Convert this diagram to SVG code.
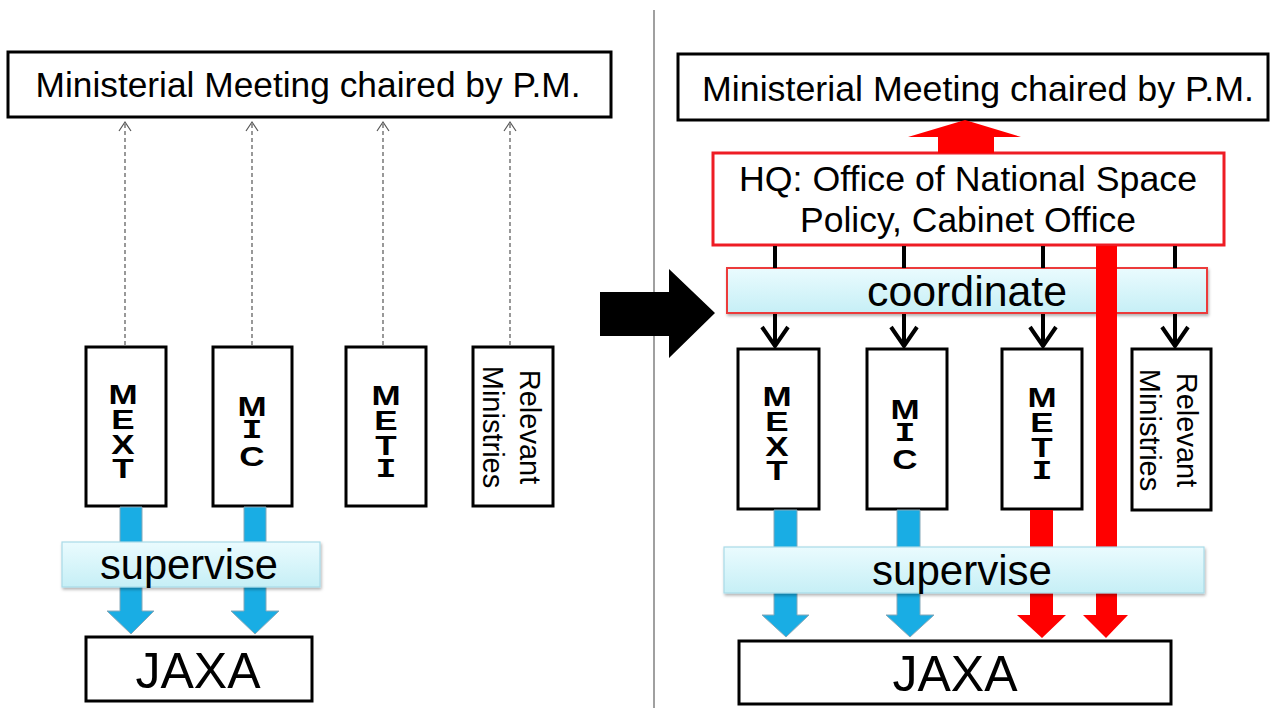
<svg xmlns="http://www.w3.org/2000/svg" width="1275" height="708" viewBox="0 0 1275 708">
<defs>
<linearGradient id="cyan" x1="0" y1="0" x2="0" y2="1">
<stop offset="0" stop-color="#eafbfe"/>
<stop offset="1" stop-color="#c6eff6"/>
</linearGradient>
<filter id="sh" x="-5%" y="-20%" width="110%" height="150%">
<feDropShadow dx="1" dy="2" stdDeviation="1.5" flood-color="#000" flood-opacity="0.3"/>
</filter>
</defs>
<style>
.box{fill:#fff;stroke:#000;stroke-width:3}
.hq{fill:#fff;stroke:#ee1c24;stroke-width:3}
.band{fill:url(#cyan);stroke:#a9dbe8;stroke-width:1.2;filter:url(#sh)}
.bandr{fill:url(#cyan);stroke:#ec3a3a;stroke-width:2;filter:url(#sh)}
.t{font-family:"Liberation Sans",Arial,sans-serif;fill:#000;text-anchor:middle}
.big{font-size:35px}
.lbl{font-size:42px}
.jaxa{font-size:50px}
.v{font-family:"Liberation Sans",Arial,sans-serif;font-weight:bold;font-size:28px;text-anchor:middle;writing-mode:vertical-rl;text-orientation:upright;letter-spacing:-7px}
.vi{font-family:"Liberation Mono","Courier New",monospace;font-weight:bold}
.r{font-family:"Liberation Sans",Arial,sans-serif;font-size:29px;text-anchor:middle}
.dash{fill:none;stroke:#555;stroke-width:1.2;stroke-dasharray:4 3}
.chev{fill:none;stroke:#555;stroke-width:1.2}
.blk{fill:none;stroke:#000;stroke-width:4}
.blue{fill:#19ade4;stroke:#86a8b8;stroke-width:1}
.red{fill:#ff0000}
</style>
<rect width="1275" height="708" fill="#fff"/>
<line x1="654" y1="10" x2="654" y2="708" stroke="#808080" stroke-width="1.5"/>
<polygon points="600,292 669,292 669,269 715,313 669,358 669,336 600,336" fill="#000"/>

<!-- left panel nodes -->
<g id="left-meeting"><rect class="box" x="8" y="52" width="603" height="65"/><text class="t big" x="308" y="97" textLength="545" lengthAdjust="spacingAndGlyphs">Ministerial Meeting chaired by P.M.</text></g>
<g id="left-mext"><rect class="box" x="86" y="347" width="80" height="159"/><text class="v" transform="translate(123,0) scale(1.25,1)" x="0" y="428">MEXT</text></g>
<g id="left-mic"><rect class="box" x="213" y="347" width="79" height="159"/><text class="v" transform="translate(252,0) scale(1.25,1)" x="0" y="428">M<tspan class="vi">I</tspan>C</text></g>
<g id="left-meti"><rect class="box" x="346" y="347" width="80" height="159"/><text class="v" transform="translate(386,0) scale(1.25,1)" x="0" y="429">MET<tspan class="vi">I</tspan></text></g>
<g id="left-relevant"><rect class="box" x="473" y="347" width="80" height="159"/><text class="r" transform="translate(520,427) rotate(90)">Relevant</text><text class="r" transform="translate(483,427) rotate(90)">Ministries</text></g>
<g id="left-jaxa"><rect class="box" x="86" y="637" width="226" height="64"/><text class="t jaxa" x="198" y="688">JAXA</text></g>

<!-- right panel nodes -->
<g id="right-meeting"><rect class="box" x="678" y="54" width="590" height="66"/><text class="t big" x="978" y="101" textLength="552" lengthAdjust="spacingAndGlyphs">Ministerial Meeting chaired by P.M.</text></g>
<g id="right-hq"><rect class="hq" x="713" y="153" width="511" height="92"/><text class="t big" x="968" y="191" textLength="458" lengthAdjust="spacingAndGlyphs">HQ: Office of National Space</text><text class="t big" x="968" y="232" textLength="336" lengthAdjust="spacingAndGlyphs">Policy, Cabinet Office</text></g>
<g id="right-coordinate"><rect class="bandr" x="727" y="268" width="480" height="45"/><text class="t lbl" x="967" y="306" textLength="200" lengthAdjust="spacingAndGlyphs">coordinate</text></g>
<g id="right-mext"><rect class="box" x="738" y="349" width="81" height="160"/><text class="v" transform="translate(777,0) scale(1.25,1)" x="0" y="430">MEXT</text></g>
<g id="right-mic"><rect class="box" x="867" y="349" width="80" height="160"/><text class="v" transform="translate(905,0) scale(1.25,1)" x="0" y="431">M<tspan class="vi">I</tspan>C</text></g>
<g id="right-meti"><rect class="box" x="1002" y="349" width="80" height="160"/><text class="v" transform="translate(1042,0) scale(1.25,1)" x="0" y="431">MET<tspan class="vi">I</tspan></text></g>
<g id="right-relevant"><rect class="box" x="1132" y="349" width="79" height="161"/><text class="r" transform="translate(1177,430) rotate(90)">Relevant</text><text class="r" transform="translate(1140,430) rotate(90)">Ministries</text></g>
<g id="right-jaxa"><rect class="box" x="739" y="641" width="432" height="63"/><text class="t jaxa" x="955" y="691">JAXA</text></g>

<!-- connectors -->
<g id="connectors">
<line class="dash" x1="125" y1="345" x2="125" y2="123"/><polyline class="chev" points="119,131 125,122 131,131"/>
<line class="dash" x1="252" y1="345" x2="252" y2="123"/><polyline class="chev" points="246,131 252,122 258,131"/>
<line class="dash" x1="383" y1="345" x2="383" y2="123"/><polyline class="chev" points="377,131 383,122 389,131"/>
<line class="dash" x1="510" y1="345" x2="510" y2="123"/><polyline class="chev" points="504,131 510,122 516,131"/>
<polygon class="blue" points="120,507 142,507 142,611 154,611 131,634 107,611 120,611"/>
<polygon class="blue" points="244,507 266,507 266,611 279,611 255,634 231,611 244,611"/>
<polygon class="red" points="938,153 994,153 994,137 1021,137 965,120 908,137 938,137"/>
<line class="blk" x1="775" y1="246" x2="775" y2="268"/>
<line class="blk" x1="904" y1="246" x2="904" y2="268"/>
<line class="blk" x1="1043" y1="246" x2="1043" y2="268"/>
<line class="blk" x1="1175" y1="246" x2="1175" y2="268"/>
<line class="blk" x1="775" y1="314" x2="775" y2="346"/><polyline class="blk" points="762,327 775,346 788,327"/>
<line class="blk" x1="904" y1="314" x2="904" y2="346"/><polyline class="blk" points="891,327 904,346 917,327"/>
<line class="blk" x1="1043" y1="314" x2="1043" y2="346"/><polyline class="blk" points="1030,327 1043,346 1056,327"/>
<line class="blk" x1="1175" y1="314" x2="1175" y2="346"/><polyline class="blk" points="1162,327 1175,346 1188,327"/>
<polygon class="red" points="1096,246 1117,246 1117,615 1128,615 1106,638 1083,615 1096,615"/>
<polygon class="red" points="1030,510 1053,510 1053,615 1066,615 1042,638 1017,615 1030,615"/>
<polygon class="blue" points="774,510 797,510 797,615 809,615 786,637 762,615 774,615"/>
<polygon class="blue" points="897,510 920,510 920,615 934,615 910,637 886,615 897,615"/>
</g>

<g id="left-supervise"><rect class="band" x="62" y="542" width="258" height="45"/><text class="t lbl" x="189" y="579" textLength="178" lengthAdjust="spacingAndGlyphs">supervise</text></g>
<g id="right-supervise"><rect class="band" x="724" y="547" width="480" height="46"/><text class="t lbl" x="962" y="585" textLength="180" lengthAdjust="spacingAndGlyphs">supervise</text></g>
</svg>
